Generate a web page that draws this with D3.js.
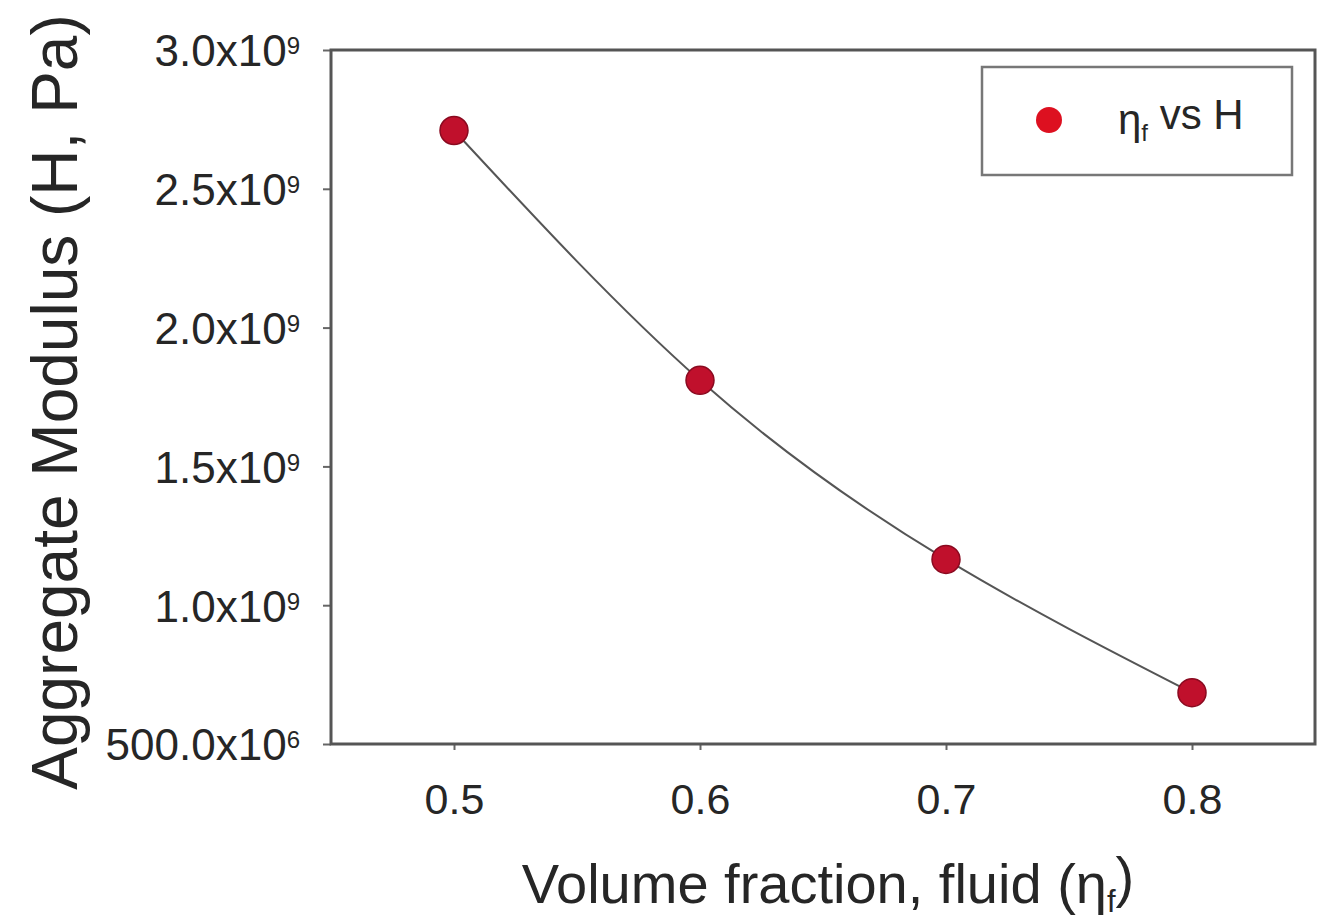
<!DOCTYPE html>
<html>
<head>
<meta charset="utf-8">
<script src="https://cdn.jsdelivr.net/npm/d3@7"></script>
<style>
  body { margin: 0; background: #fff; }
  text { font-family: "Liberation Sans", Arial, sans-serif; fill: #262626; }
</style>
</head>
<body>
<div id="chart"></div>
<script>
// volume fraction of fluid vs aggregate modulus (Pa)
var fractions = [0.5, 0.6, 0.7, 0.8];
var modulus = [2.71e9, 1.81e9, 1.165e9, 0.685e9];
var xTicks = [0.5, 0.6, 0.7, 0.8];
var yTicks = [0.5e9, 1.0e9, 1.5e9, 2.0e9, 2.5e9, 3.0e9];
var yTickLabels = [["500.0x10", "6"], ["1.0x10", "9"], ["1.5x10", "9"], ["2.0x10", "9"], ["2.5x10", "9"], ["3.0x10", "9"]];

var width = 1326, height = 920;
var margin = {top: 50, right: 11, bottom: 176, left: 331};
var w = width - margin.left - margin.right,
    h = height - margin.top - margin.bottom;

var svg = d3.select("#chart").append("svg")
    .attr("width", width)
    .attr("height", height);

var g = svg.append("g")
    .attr("transform", "translate(" + margin.left + "," + margin.top + ")");

var x = d3.scaleLinear().domain([0.45, 0.85]).range([0, w]);
var y = d3.scaleLinear().domain([0.5e9, 3.0e9]).range([h, 0]);

// x axis
var xAxis = g.append("g")
    .attr("transform", "translate(0," + h + ")")
    .call(d3.axisBottom(x).tickValues(xTicks).tickSize(6).tickFormat(d3.format(".1f")));
xAxis.select(".domain").remove();
xAxis.selectAll("line").attr("stroke", "#666").attr("stroke-width", 2);
xAxis.selectAll("text")
    .attr("y", 56)
    .attr("dy", "0.32em")
    .style("font-size", "43px")
    .style("fill", "#262626");

// y axis
var yAxis = g.append("g")
    .call(d3.axisLeft(y).tickValues(yTicks).tickSize(8).tickFormat(""));
yAxis.select(".domain").remove();
yAxis.selectAll("line").attr("stroke", "#666").attr("stroke-width", 2);
yAxis.selectAll(".tick").each(function(d, i) {
  var t = d3.select(this).append("text")
      .attr("x", -31)
      .attr("dy", "0.36em")
      .attr("text-anchor", "end")
      .style("font-size", "44px")
      .style("fill", "#262626");
  t.append("tspan").text(yTickLabels[i][0]);
  t.append("tspan")
      .attr("dy", "-0.5em")
      .style("font-size", "24px")
      .text(yTickLabels[i][1]);
});

// plot frame
g.append("rect")
    .attr("x", 0).attr("y", 0)
    .attr("width", w).attr("height", h)
    .attr("fill", "none")
    .attr("stroke", "#555")
    .attr("stroke-width", 3);

// fitted curve
var line = d3.line()
    .x(function(d, i) { return x(fractions[i]); })
    .y(function(d) { return y(d); })
    .curve(d3.curveNatural);

g.append("path")
    .datum(modulus)
    .attr("d", line)
    .attr("fill", "none")
    .attr("stroke", "#555")
    .attr("stroke-width", 2);

// points
g.selectAll(".pt")
    .data(modulus)
  .enter().append("circle")
    .attr("class", "pt")
    .attr("cx", function(d, i) { return x(fractions[i]); })
    .attr("cy", function(d) { return y(d); })
    .attr("r", 14)
    .attr("fill", "#c0102c")
    .attr("stroke", "#8a0a20")
    .attr("stroke-width", 1.5);

// legend
var leg = g.append("g").attr("transform", "translate(" + (w - 333) + ",17)");
leg.append("rect")
    .attr("width", 310).attr("height", 108)
    .attr("fill", "#fff")
    .attr("stroke", "#777")
    .attr("stroke-width", 2.5);
leg.append("circle")
    .attr("cx", 67).attr("cy", 53).attr("r", 13)
    .attr("fill", "#dd1020");
var lt = leg.append("text")
    .attr("x", 136).attr("y", 67)
    .style("font-size", "42px");
lt.append("tspan").text("η");
lt.append("tspan").attr("dy", "0.3em").style("font-size", "24px").text("f");
lt.append("tspan").attr("dy", "-0.3em").text(" vs H");

// axis titles
var xt = svg.append("text")
    .attr("x", 828).attr("y", 903)
    .attr("text-anchor", "middle")
    .style("font-size", "56px");
xt.append("tspan").text("Volume fraction, fluid (η");
xt.append("tspan").attr("dy", "0.3em").style("font-size", "31px").text("f");
xt.append("tspan").attr("dy", "-0.3em").text(")");

svg.append("text")
    .attr("transform", "translate(77,402) rotate(-90)")
    .attr("text-anchor", "middle")
    .style("font-size", "64px")
    .text("Aggregate Modulus (H, Pa)");
</script>
</body>
</html>
